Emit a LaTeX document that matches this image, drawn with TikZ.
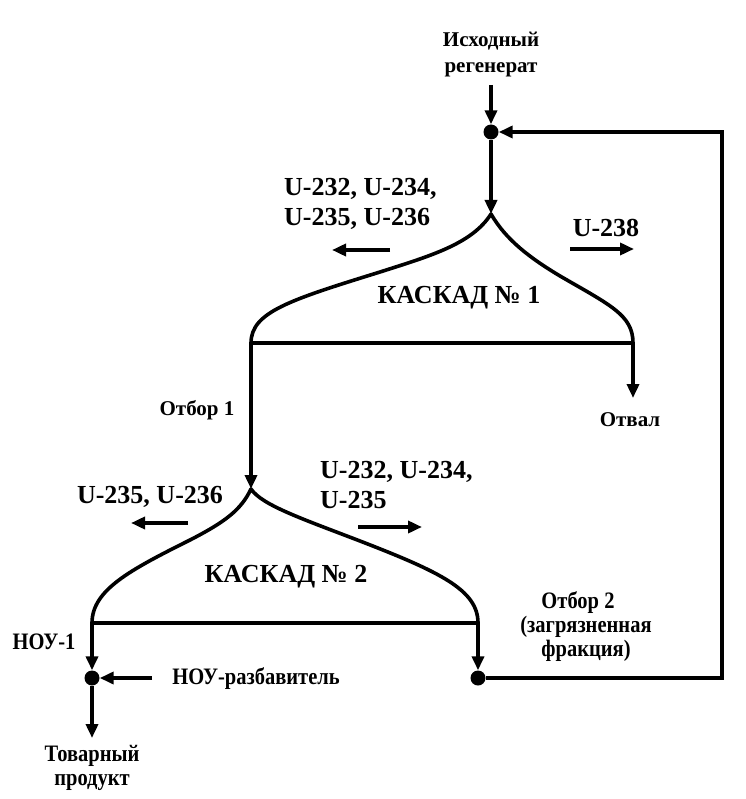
\documentclass[tikz,border=0pt]{standalone}
\usepackage{fontspec}
\setmainfont{Liberation Serif}
\usetikzlibrary{arrows.meta}
\newcommand{\tallb}[1]{\scalebox{1}[1.15]{#1}}
\tikzset{
  flow/.style={line width=3.6pt},
  arr/.style={line width=3.6pt,-{Triangle[length=14pt,width=12pt]}},
  jdot/.style={circle,fill=black,inner sep=0pt,minimum size=15pt},
  big/.style={font=\fontsize{26}{30}\selectfont\bfseries,inner sep=0pt},
  small/.style={font=\fontsize{21}{26}\selectfont\bfseries,inner sep=0pt,align=center},
  tall/.style={font=\fontsize{20.5}{24}\selectfont\bfseries,inner sep=0pt,align=center},
}
\begin{document}
\begin{tikzpicture}[x=1pt,y=-1pt]
\useasboundingbox (0,0) rectangle (745,799);
% junctions and points
\node[jdot] (j1) at (491,132) {};
\node[jdot] (j4) at (92,678) {};
\node[jdot] (j5) at (478,678) {};
\coordinate (in1) at (491,85);
\coordinate (apex1) at (491,214);
\coordinate (l1) at (251,343);
\coordinate (r1) at (633,343);
\coordinate (otval) at (633,398);
\coordinate (apex2) at (251,489);
\coordinate (l2) at (92,623);
\coordinate (r2) at (478,623);
\coordinate (fbB) at (722,678);
\coordinate (fbT) at (722,132);
\coordinate (dil) at (152,678);
\coordinate (prod) at (92,738);
% labels
\node[small] (src) at (491,55) {Исходный\\регенерат};
\node[big,anchor=west,align=left] (lab1) at (284,204) {U-232, U-234,\\U-235, U-236};
\node[big] (lab2) at (606,228) {U-238};
\node[big] (k1) at (459,298) {КАСКАД № 1};
\node[small] (ot1) at (197,410) {Отбор 1};
\node[small] (otv) at (630,420) {Отвал};
\node[big] (lab3) at (150,497) {U-235, U-236};
\node[big,anchor=west,align=left] (lab4) at (320,485) {U-232, U-234,\\U-235};
\node[big] (k2) at (286,577) {КАСКАД № 2};
\node[tall] (nou1) at (44,642) {\tallb{НОУ-1}};
\node[tall] (noud) at (256,679) {\tallb{НОУ-разбавитель}};
\node[tall] (tov) at (92,756) {\tallb{Товарный}};
\node[tall] (prd) at (92,782) {\tallb{продукт}};
\node[tall] (ot2a) at (578,603) {\tallb{Отбор 2}};
\node[tall] (ot2b) at (586,627) {\tallb{(загрязненная}};
\node[tall] (ot2c) at (586,651) {\tallb{фракция)}};
% side arrows
\coordinate (a1s) at (390,250); \coordinate (a1e) at (332,250);
\coordinate (a2s) at (570,249); \coordinate (a2e) at (634,249);
\coordinate (a3s) at (188,523); \coordinate (a3e) at (131,523);
\coordinate (a4s) at (358,527); \coordinate (a4e) at (422,527);
\draw[arr] (a1s) -- (a1e);
\draw[arr] (a2s) -- (a2e);
\draw[arr] (a3s) -- (a3e);
\draw[arr] (a4s) -- (a4e);
% feed
\draw[arr] (in1) -- (j1);
\draw[arr] (j1) -- (apex1);
\draw[arr,line join=miter] (j5) -- (fbB) -- (fbT) -- (j1);
% cascade 1
\draw[flow,line join=round] (l1) .. controls (251,312) and (290,300) .. (380,272)
   .. controls (430,256) and (472,244) .. (apex1)
   .. controls (506,240) and (530,258) .. (560,276)
   .. controls (610,305) and (633,315) .. (r1);
\draw[flow] (l1) -- (r1);
\draw[arr] (r1) -- (otval);
\draw[arr] (l1) -- (apex2);
% cascade 2
\draw[flow,line join=round] (l2) .. controls (92,590) and (130,570) .. (190,540)
   .. controls (225,522) and (241,510) .. (apex2)
   .. controls (262,505) and (300,518) .. (360,541)
   .. controls (440,572) and (478,590) .. (r2);
\draw[flow] (l2) -- (r2);
\draw[arr] (l2) -- (j4);
\draw[arr] (r2) -- (j5);
\draw[arr] (dil) -- (j4);
\draw[arr] (j4) -- (prod);
\end{tikzpicture}
\end{document}
